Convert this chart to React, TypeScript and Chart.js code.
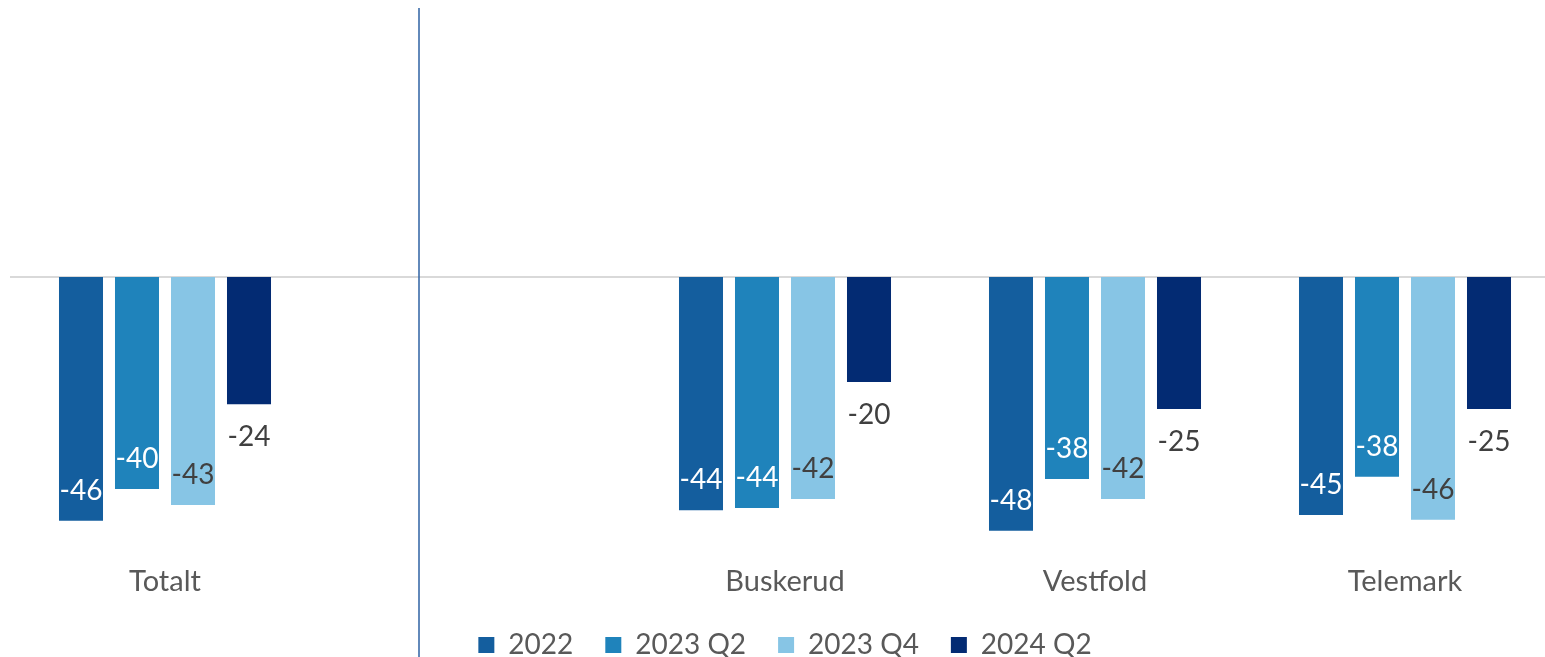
import React, { useEffect, useRef } from "react";
import { Chart, registerables } from "chart.js";

Chart.register(...registerables);

const categories = ["Totalt", "", "Buskerud", "Vestfold", "Telemark"];
const seriesNames = ["2022", "2023 Q2", "2023 Q4", "2024 Q2"];
const values2022 = [-46.0, null, -44.0, -47.9, -44.9];
const values2023Q2 = [-40.0, null, -43.6, -38.1, -37.7];
const values2023Q4 = [-43.0, null, -41.9, -41.9, -45.8];
const values2024Q2 = [-24.0, null, -19.8, -24.9, -24.9];
const seriesValues = [values2022, values2023Q2, values2023Q4, values2024Q2];

const colors = ["#145E9E", "#1F83BB", "#87C5E5", "#032B73"];
const labelColors = ["#FFFFFF", "#FFFFFF", "#404040", "#404040"];
const labelInside = [true, true, true, false];

const FONT = 'Lato, "Open Sans", sans-serif';

const zeroLinePlugin = {
  id: "zeroLine",
  beforeDatasetsDraw(chart: any) {
    const { ctx, chartArea, scales } = chart;
    const y = scales.y.getPixelForValue(0);
    ctx.save();
    ctx.strokeStyle = "#D9D9D9";
    ctx.lineWidth = 2;
    ctx.beginPath();
    ctx.moveTo(chartArea.left, y);
    ctx.lineTo(chartArea.right, y);
    ctx.stroke();
    ctx.restore();
  },
};

const dividerPlugin = {
  id: "divider",
  afterDraw(chart: any) {
    const { ctx } = chart;
    ctx.save();
    ctx.strokeStyle = "#2E62A3";
    ctx.lineWidth = 1.5;
    ctx.beginPath();
    ctx.moveTo(419, 8);
    ctx.lineTo(419, chart.height);
    ctx.stroke();
    ctx.restore();
  },
};

const dataLabelPlugin = {
  id: "dataLabels",
  afterDatasetsDraw(chart: any) {
    const { ctx } = chart;
    ctx.save();
    ctx.font = `28px ${FONT}`;
    ctx.textAlign = "center";
    ctx.textBaseline = "middle";
    chart.data.datasets.forEach((ds: any, i: number) => {
      const meta = chart.getDatasetMeta(i);
      meta.data.forEach((el: any, j: number) => {
        const v = ds.data[j];
        if (v == null) return;
        const { x, y } = el.getProps(["x", "y"], true);
        const ty = labelInside[i] ? y - 30 : y + 33;
        ctx.fillStyle = labelColors[i];
        ctx.fillText(String(Math.round(v)), x, ty);
      });
    });
    ctx.restore();
  },
};

export default function App() {
  const ref = useRef<HTMLCanvasElement | null>(null);

  useEffect(() => {
    if (!ref.current) return;
    const chart = new Chart(ref.current, {
      type: "bar",
      data: {
        labels: categories,
        datasets: seriesNames.map((name, i) => ({
          label: name,
          data: seriesValues[i],
          backgroundColor: colors[i],
          borderWidth: 0,
          categoryPercentage: 0.7226,
          barPercentage: 0.786,
        })),
      },
      options: {
        responsive: false,
        animation: false,
        devicePixelRatio: 1,
        layout: { padding: { left: 10, top: 12, right: 0, bottom: 0 } },
        plugins: {
          tooltip: { enabled: false },
          legend: {
            position: "bottom",
            maxHeight: 66,
            labels: {
              boxWidth: 16,
              boxHeight: 16,
              padding: 32,
              color: "#595959",
              font: { family: FONT, size: 28 },
            },
          },
        },
        scales: {
          x: {
            grid: { display: false, drawTicks: false },
            border: { display: false },
            ticks: {
              color: "#595959",
              font: { family: FONT, size: 29 },
              padding: 22,
            },
            afterFit: (scale: any) => {
              scale.height = 57;
            },
          },
          y: {
            display: false,
            min: -50,
            max: 50,
          },
        },
      },
      plugins: [zeroLinePlugin, dataLabelPlugin, dividerPlugin],
    });
    return () => chart.destroy();
  }, []);

  return (
    <div
      style={{
        position: "fixed",
        left: 0,
        top: 0,
        width: 1545,
        height: 657,
        overflow: "hidden",
        background: "#FFFFFF",
      }}
    >
      <canvas ref={ref} width={1560} height={665} style={{ display: "block" }} />
    </div>
  );
}
